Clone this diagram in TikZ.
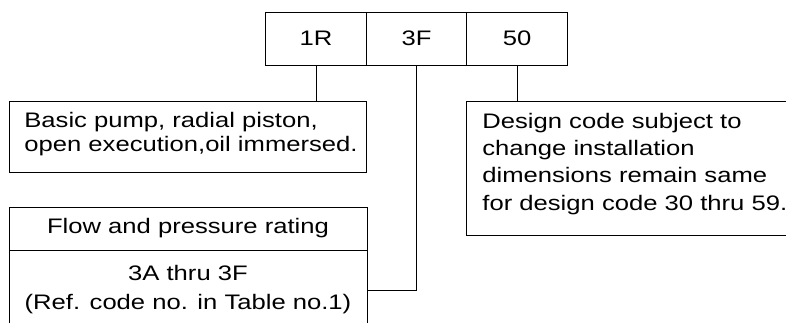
\documentclass[tikz,border=0pt]{standalone}
\usepackage{graphicx}
\usepackage{fontspec}
\setmainfont{Liberation Sans}
\usepackage{tikz}
\def\SX#1{\scalebox{1.22}[1]{#1}}
\tikzset{box/.style={draw,line width=0.8pt,inner sep=0pt,outer sep=0pt},
  code/.style={box,minimum width=100.5pt,minimum height=53pt},
  txt/.style={anchor=base west,align=left,inner sep=0pt}}

\begin{document}
\begin{tikzpicture}[x=1pt,y=-1pt,line width=0.8pt,font=\fontsize{21}{24}\selectfont]
\useasboundingbox (0,0) rectangle (786,322);
\clip (0,0) rectangle (786,322);
% code boxes
\node[code] (c1R) at (316,38.5) {\SX{1R}};
\node[code] (c3F) at (416.5,38.5) {\SX{3F}};
\node[code] (c50) at (517,38.5) {\SX{50}};
\node[box,minimum width=357pt,minimum height=71pt] (basic) at (187.5,136.5) {};
% base = last line
\node[txt,font=\fontsize{21}{23.3}\selectfont] (basictxt) at (24,151)
  {\SX{Basic pump, radial piston,}\\\SX{open execution,oil immersed.}};
\node[box,minimum width=334pt,minimum height=134pt] (design) at (633,168) {};
\node[txt,font=\fontsize{21}{27.3}\selectfont] (designtxt) at (482,210)
  {\SX{Design code subject to}\\\SX{change installation}\\\SX{dimensions remain same}\\\SX{for design code 30 thru 59.}};
\node[box,minimum width=358pt,minimum height=43pt] (flowhead) at (188,228.5) {\SX{Flow and pressure rating}};
\node[box,minimum width=358pt,minimum height=80pt,align=center,font=\fontsize{21}{29}\selectfont] (flowlo) at (188,290)
  {\SX{3A thru 3F}\\\SX{(Ref. code no. in Table no.1)}};
% connectors
\draw (c1R.south) -- (c1R.south |- basic.north);
\draw (c50.south) -- (c50.south |- design.north);
\draw (c3F.south) |- (flowlo.east);
\end{tikzpicture}
\end{document}
